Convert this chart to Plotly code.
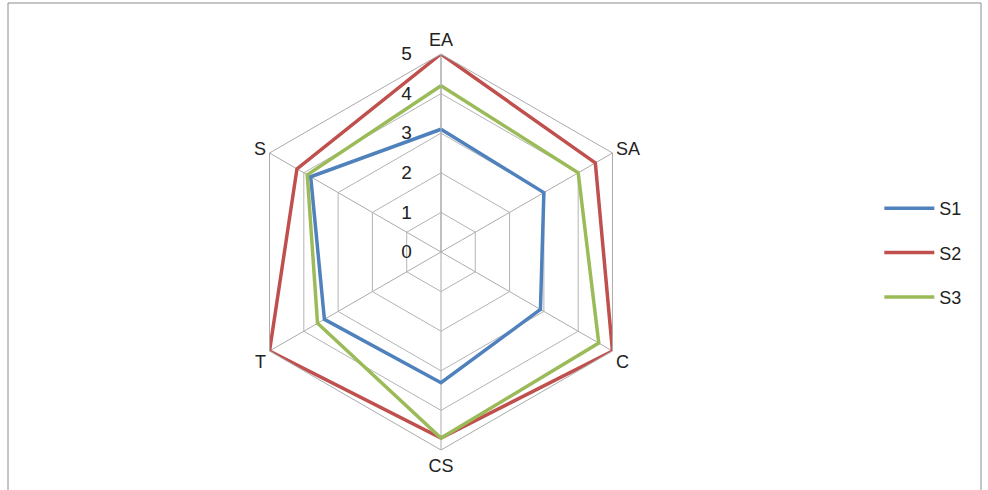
import plotly.graph_objects as go

categories = ["EA", "SA", "C", "CS", "T", "S"]
s1 = [3.1, 3.0, 2.9, 3.3, 3.4, 3.8]
s2 = [5.0, 4.5, 5.0, 4.7, 5.0, 4.2]
s3 = [4.2, 4.0, 4.6, 4.7, 3.6, 3.9]
series_names = ["S1", "S2", "S3"]
colors = ["#4F81BD", "#C0504D", "#9BBB59"]
radial_ticks = [0, 1, 2, 3, 4, 5]

fig = go.Figure()
for name, vals, col in zip(series_names, [s1, s2, s3], colors):
    fig.add_trace(go.Scatterpolar(
        r=vals + vals[:1],
        theta=categories + categories[:1],
        mode="lines",
        name=name,
        legendgroup=name,
        line=dict(color=col, width=3.5),
    ))

font_family = "Liberation Sans, Arial, sans-serif"
W, H = 988, 490
cx, cy, R = 441, 252, 198

fig.update_layout(
    width=W, height=H,
    margin=dict(l=0, r=0, t=0, b=0),
    paper_bgcolor="white",
    plot_bgcolor="white",
    font=dict(family=font_family, size=18, color="#222222"),
    polar=dict(
        domain=dict(x=[(cx - R) / W, (cx + R) / W], y=[(H - cy - R) / H, (H - cy + R) / H]),
        bgcolor="white",
        gridshape="linear",
        radialaxis=dict(
            range=[0, 5],
            tickvals=radial_ticks,
            angle=90,
            side="counterclockwise",
            tickangle=90,
            showline=True,
            linecolor="#ABABAB",
            linewidth=1,
            gridcolor="#B4B4B4",
            gridwidth=1,
            ticks="outside",
            ticklen=22,
            tickcolor="rgba(0,0,0,0)",
            tickfont=dict(size=19, color="#222222"),
        ),
        angularaxis=dict(
            rotation=90,
            direction="clockwise",
            categoryorder="array",
            categoryarray=categories,
            showline=True,
            linecolor="#ABABAB",
            linewidth=1,
            gridcolor="#ABABAB",
            gridwidth=1,
            ticks="",
            tickfont=dict(size=18, color="#222222"),
        ),
    ),
    legend=dict(
        x=0.89, y=0.4837, xanchor="left", yanchor="middle",
        font=dict(size=18, color="#222222"),
        tracegroupgap=18,
        itemwidth=50,
        bgcolor="rgba(0,0,0,0)",
    ),
    shapes=[dict(
        type="rect", xref="paper", yref="paper",
        x0=8 / W, x1=981 / W, y0=-0.02, y1=1 - 3 / H,
        line=dict(color="#8C8C8C", width=1),
        fillcolor="rgba(0,0,0,0)",
        layer="below",
    )],
)

fig.write_html("out.html")
